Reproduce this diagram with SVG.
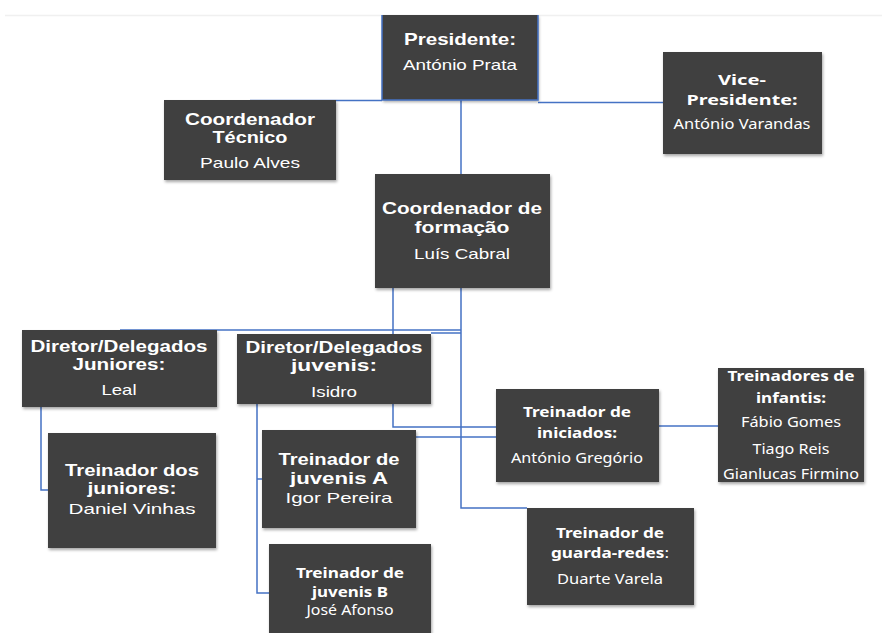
<svg xmlns="http://www.w3.org/2000/svg" width="882" height="633" viewBox="0 0 882 633">
<style>
.box{fill:#404040;filter:url(#sh)}
.c{fill:none;stroke:#4472c4;stroke-width:1.5}
text{fill:#ffffff;text-anchor:middle}
.ab{font-family:"Liberation Sans",Arial,sans-serif;font-weight:bold;font-size:17px}
.ar{font-family:"Liberation Sans",Arial,sans-serif;font-size:15px}
.cb{font-family:"Noto Sans","Open Sans",sans-serif;font-weight:bold;font-size:15px}
.cr{font-family:"Noto Sans","Open Sans",sans-serif;font-size:14px}
</style>
<defs>
<filter id="sh" x="-10%" y="-10%" width="125%" height="130%">
<feDropShadow dx="1" dy="2" stdDeviation="1.5" flood-color="#000" flood-opacity="0.35"/>
</filter>
</defs>
<rect x="0" y="0" width="882" height="633" fill="#ffffff"/>
<line x1="5" y1="15.5" x2="882" y2="15.5" stroke="#f0f0f0" stroke-width="1.5"/>
<g id="connectors">
<path class="c" d="M250,100.5 H382"/>
<path class="c" d="M538,102.5 H663"/>
<path class="c" d="M461,100 V174"/>
<path class="c" d="M461,288 V508 H527"/>
<path class="c" d="M461,330 H120"/>
<path class="c" d="M461,333 H431"/>
<path class="c" d="M393,288 V427 H496"/>
<path class="c" d="M339,437 H496"/>
<path class="c" d="M659,426 H718"/>
<path class="c" d="M41,407 V490 H48"/>
<path class="c" d="M257,404 V593 H269"/>
<path class="c" d="M257,479 H262"/>
</g>
<g id="presidente">
<rect class="box" x="382" y="15" width="156" height="85"/>
<path d="M382,15 V100 H538 V15" fill="none" stroke="#4472c4" stroke-width="1.5"/>
<text class="ab" x="460" y="45" textLength="112" lengthAdjust="spacingAndGlyphs">Presidente:</text>
<text class="ar" x="460" y="70" textLength="114" lengthAdjust="spacingAndGlyphs">António Prata</text>
</g>
<g id="vice-presidente">
<rect class="box" x="663" y="52" width="159" height="102"/>
<text class="cb" x="742" y="85" font-size="15" textLength="48" lengthAdjust="spacingAndGlyphs">Vice-</text>
<text class="cb" x="742" y="105" font-size="15" textLength="111" lengthAdjust="spacingAndGlyphs">Presidente:</text>
<text class="cr" x="742" y="129" textLength="137" lengthAdjust="spacingAndGlyphs">António Varandas</text>
</g>
<g id="coordenador-tecnico">
<rect class="box" x="164" y="100" width="172" height="80"/>
<text class="ab" x="250" y="125" textLength="130" lengthAdjust="spacingAndGlyphs">Coordenador</text>
<text class="ab" x="250" y="143" textLength="75" lengthAdjust="spacingAndGlyphs">Técnico</text>
<text class="ar" x="250" y="168" font-size="16" textLength="100" lengthAdjust="spacingAndGlyphs">Paulo Alves</text>
</g>
<g id="coordenador-formacao">
<rect class="box" x="375" y="174" width="175" height="114"/>
<text class="ab" x="462" y="214" font-size="16" textLength="160" lengthAdjust="spacingAndGlyphs">Coordenador de</text>
<text class="ab" x="462" y="233" font-size="16" textLength="95" lengthAdjust="spacingAndGlyphs">formação</text>
<text class="ar" x="462" y="259" textLength="96" lengthAdjust="spacingAndGlyphs">Luís Cabral</text>
</g>
<g id="diretor-juniores">
<rect class="box" x="22" y="330" width="195" height="77"/>
<text class="ab" x="119" y="352" font-size="16" textLength="177" lengthAdjust="spacingAndGlyphs">Diretor/Delegados</text>
<text class="ab" x="119" y="370" font-size="16" textLength="93" lengthAdjust="spacingAndGlyphs">Juniores:</text>
<text class="ar" x="119" y="395" font-size="14" textLength="35" lengthAdjust="spacingAndGlyphs">Leal</text>
</g>
<g id="diretor-juvenis">
<rect class="box" x="237" y="334" width="194" height="70"/>
<text class="ab" x="334" y="353" font-size="16" textLength="177" lengthAdjust="spacingAndGlyphs">Diretor/Delegados</text>
<text class="ab" x="334" y="371" font-size="16" textLength="86" lengthAdjust="spacingAndGlyphs">juvenis:</text>
<text class="ar" x="334" y="397" font-size="14" textLength="46" lengthAdjust="spacingAndGlyphs">Isidro</text>
</g>
<g id="treinador-juniores">
<rect class="box" x="48" y="433" width="168" height="115"/>
<text class="ab" x="132" y="476" font-size="16" textLength="134" lengthAdjust="spacingAndGlyphs">Treinador dos</text>
<text class="ab" x="132" y="494" font-size="16" textLength="89" lengthAdjust="spacingAndGlyphs">juniores:</text>
<text class="ar" x="132" y="514" textLength="127" lengthAdjust="spacingAndGlyphs">Daniel Vinhas</text>
</g>
<g id="treinador-juvenis-a">
<rect class="box" x="262" y="430" width="154" height="98"/>
<text class="ab" x="339" y="465" font-size="16" textLength="121" lengthAdjust="spacingAndGlyphs">Treinador de</text>
<text class="ab" x="339" y="484" font-size="16" textLength="98" lengthAdjust="spacingAndGlyphs">juvenis A</text>
<text class="ar" x="339" y="503" textLength="107" lengthAdjust="spacingAndGlyphs">Igor Pereira</text>
</g>
<g id="treinador-juvenis-b">
<rect class="box" x="269" y="544" width="162" height="100"/>
<text class="cb" x="350" y="578" textLength="108" lengthAdjust="spacingAndGlyphs">Treinador de</text>
<text class="cb" x="350" y="597" textLength="76" lengthAdjust="spacingAndGlyphs">juvenis B</text>
<text class="cr" x="350" y="615" font-size="11" textLength="87" lengthAdjust="spacingAndGlyphs">José Afonso</text>
</g>
<g id="treinador-iniciados">
<rect class="box" x="496" y="389" width="163" height="93"/>
<text class="cb" x="577" y="417" textLength="108" lengthAdjust="spacingAndGlyphs">Treinador de</text>
<text class="cb" x="577" y="438" textLength="80" lengthAdjust="spacingAndGlyphs">iniciados:</text>
<text class="cr" x="577" y="463" textLength="132" lengthAdjust="spacingAndGlyphs">António Gregório</text>
</g>
<g id="treinadores-infantis">
<rect class="box" x="718" y="368" width="146" height="114"/>
<text class="cb" x="791" y="381" textLength="127" lengthAdjust="spacingAndGlyphs">Treinadores de</text>
<text class="cb" x="791" y="403" textLength="70" lengthAdjust="spacingAndGlyphs">infantis:</text>
<text class="cr" x="791" y="427" textLength="100" lengthAdjust="spacingAndGlyphs">Fábio Gomes</text>
<text class="cr" x="791" y="454" textLength="77" lengthAdjust="spacingAndGlyphs">Tiago Reis</text>
<text class="cr" x="791" y="479" textLength="136" lengthAdjust="spacingAndGlyphs">Gianlucas Firmino</text>
</g>
<g id="treinador-guarda-redes">
<rect class="box" x="527" y="508" width="167" height="97"/>
<text class="cb" x="610" y="538" textLength="108" lengthAdjust="spacingAndGlyphs">Treinador de</text>
<text class="cb" x="610" y="558" textLength="118" lengthAdjust="spacingAndGlyphs">guarda-redes<tspan font-weight="normal">:</tspan></text>
<text class="cr" x="610" y="584" textLength="106" lengthAdjust="spacingAndGlyphs">Duarte Varela</text>
</g>
</svg>
